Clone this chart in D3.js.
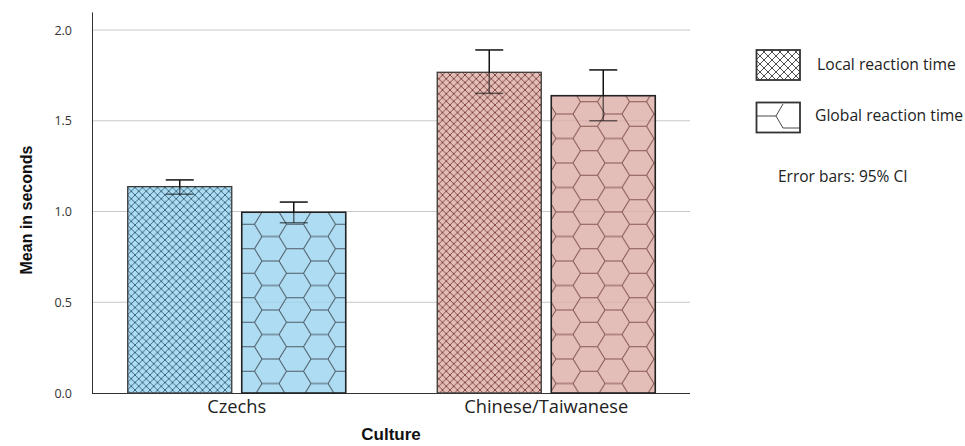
<!DOCTYPE html>
<html><head><meta charset="utf-8">
<script src="https://cdn.jsdelivr.net/npm/d3@7"></script>
<style>body{margin:0;background:#fff}svg{display:block}</style>
</head><body><div id="chart"></div>
<script>
const categories = ["Czechs", "Chinese/Taiwanese"];
const seriesNames = ["Local reaction time", "Global reaction time"];
const localMeans = [1.137, 1.767];
const localLower = [1.095, 1.651];
const localUpper = [1.174, 1.890];
const globalMeans = [0.996, 1.638];
const globalLower = [0.938, 1.500];
const globalUpper = [1.052, 1.780];
const yTicks = [0.0, 0.5, 1.0, 1.5, 2.0];
const xTitle = "Culture";
const yTitle = "Mean in seconds";
const noteText = "Error bars: 95% CI";

const W = 965, H = 446;
const svg = d3.select("#chart").append("svg").attr("width", W).attr("height", H);
const defs = svg.append("defs");

const fills = ["#9ad3ef", "#dcada6"];
const lineCols = ["#2f5f7a", "#7a3f3a"];
const hexCols = ["#4a5864", "#85554f"];

function crossPattern(id, col, period, sw) {
  const p = defs.append("pattern").attr("id", id).attr("patternUnits", "userSpaceOnUse")
    .attr("width", period).attr("height", period);
  p.append("path").attr("d", `M0,0L${period},${period}M${period},0L0,${period}`)
    .attr("stroke", col).attr("stroke-width", sw).attr("fill", "none");
}
function hexPattern(id, col) {
  const R = 16, t = 8.5, h = 12.25, PX = 2 * (R + t), PY = 2 * h;
  const edges = [
    [-t, -h, t, -h], [t, -h, R, 0], [R, 0, t, h],
    [R, 0, R + 2 * t, 0], [R + 2 * t, 0, 2 * R + t, h], [2 * R + t, h, R + 2 * t, 2 * h]
  ];
  const p = defs.append("pattern").attr("id", id).attr("patternUnits", "userSpaceOnUse")
    .attr("width", PX).attr("height", PY).attr("x", 242 + 4).attr("y", 212);
  let d = "";
  for (const dx of [-PX, 0, PX]) for (const dy of [-PY, 0, PY]) for (const e of edges)
    d += `M${e[0] + dx},${e[1] + dy}L${e[2] + dx},${e[3] + dy}`;
  p.append("path").attr("d", d).attr("stroke", col).attr("stroke-width", 1).attr("fill", "none");
}
crossPattern("cross0", lineCols[0], 7.5, 0.9);
crossPattern("cross1", lineCols[1], 7.5, 0.9);
crossPattern("crossL", "#222", 8, 0.8);
hexPattern("hex0", hexCols[0]);
hexPattern("hex1", hexCols[1]);

const y = d3.scaleLinear().domain([0, 2.1]).range([393, 11.85]);
const x0 = d3.scaleBand().domain(categories).range([82, 701]).paddingInner(0.2956).paddingOuter(0.1478);
const x1 = d3.scaleBand().domain(seriesNames).range([0, x0.bandwidth()]).paddingInner(10 / 114).paddingOuter(0);

const font = "'Open Sans', sans-serif";
const bold = "'Liberation Sans', Arial, sans-serif";

// grid
svg.append("g").selectAll("line").data(yTicks.filter(d => d > 0)).join("line")
  .attr("x1", 92).attr("x2", 690).attr("y1", d => y(d)).attr("y2", d => y(d))
  .attr("stroke", "#c8c8c8").attr("stroke-width", 1);

// y axis
const yAxis = d3.axisLeft(y).tickValues(yTicks).tickFormat(d3.format(".1f")).tickSize(0).tickPadding(20);
const ya = svg.append("g").attr("transform", "translate(92,0)").call(yAxis);
ya.select(".domain").attr("stroke", "#333").attr("stroke-width", 1);
ya.selectAll("text").attr("font-family", font).attr("font-size", 12.5).attr("fill", "#333");

// x axis baseline
const xAxis = d3.axisBottom(x0).tickSize(0).tickPadding(7);
const xa = svg.append("g").attr("transform", "translate(0,393)").call(xAxis);
xa.select(".domain").remove();
svg.append("line").attr("x1", 92).attr("x2", 690).attr("y1", 393.5).attr("y2", 393.5).attr("stroke", "#333");
xa.selectAll("text").attr("font-family", font).attr("font-size", 18.3).attr("fill", "#222");

const rows = [];
categories.forEach((c, i) => {
  rows.push({ cat: c, s: seriesNames[0], v: localMeans[i], lo: localLower[i], hi: localUpper[i], ci: i, si: 0 });
  rows.push({ cat: c, s: seriesNames[1], v: globalMeans[i], lo: globalLower[i], hi: globalUpper[i], ci: i, si: 1 });
});

const gBars = svg.append("g");
gBars.selectAll("rect.fill").data(rows).join("rect").attr("class", "fill")
  .attr("x", d => x0(d.cat) + x1(d.s)).attr("width", x1.bandwidth())
  .attr("y", d => y(d.v)).attr("height", d => y(0) - y(d.v))
  .attr("fill", d => fills[d.ci]).attr("fill-opacity", 0.8);
gBars.selectAll("rect.pat").data(rows).join("rect").attr("class", "pat")
  .attr("x", d => x0(d.cat) + x1(d.s)).attr("width", x1.bandwidth())
  .attr("y", d => y(d.v)).attr("height", d => y(0) - y(d.v))
  .attr("fill", d => d.si === 0 ? `url(#cross${d.ci})` : `url(#hex${d.ci})`)
  .attr("stroke", d => d.si === 0 ? "#3a3a3a" : "#222").attr("stroke-width", d => d.si === 0 ? 1.3 : 1.6);

// error bars
const cap = 14;
const gErr = svg.append("g");
rows.forEach(d => {
  const cx = x0(d.cat) + x1(d.s) + x1.bandwidth() / 2;
  const g = gErr.append("g");
  g.append("line").attr("x1", cx).attr("x2", cx).attr("y1", y(d.hi)).attr("y2", y(d.v))
    .attr("stroke", "#111").attr("stroke-width", 1.5);
  g.append("line").attr("x1", cx).attr("x2", cx).attr("y1", y(d.v)).attr("y2", y(d.lo))
    .attr("stroke", "#111").attr("stroke-width", 1.5).attr("stroke-opacity", 0.6);
  g.append("line").attr("x1", cx - cap).attr("x2", cx + cap).attr("y1", y(d.hi)).attr("y2", y(d.hi))
    .attr("stroke", "#111").attr("stroke-width", 1.5);
  g.append("line").attr("x1", cx - cap).attr("x2", cx + cap).attr("y1", y(d.lo)).attr("y2", y(d.lo))
    .attr("stroke", "#111").attr("stroke-width", 1.5).attr("stroke-opacity", d.lo < d.v ? 0.6 : 1);
});

// titles
svg.append("text").attr("x", 391).attr("y", 440).attr("text-anchor", "middle")
  .attr("font-family", bold).attr("font-weight", "bold").attr("font-size", 17).attr("fill", "#111").text(xTitle);
svg.append("text").attr("transform", "translate(32,210) rotate(-90)").attr("text-anchor", "middle")
  .attr("font-family", bold).attr("font-weight", "bold").attr("font-size", 16).attr("fill", "#111").text(yTitle);

// legend
const lg = svg.append("g");
lg.append("rect").attr("x", 756.5).attr("y", 50).attr("width", 43.5).attr("height", 30)
  .attr("fill", "url(#crossL)").attr("stroke", "#333").attr("stroke-width", 1.8);
lg.append("text").attr("x", 817).attr("y", 70).attr("font-family", font).attr("font-size", 15.7).attr("fill", "#222").text(seriesNames[0]);
const gb = lg.append("g");
gb.append("rect").attr("x", 756.5).attr("y", 102.5).attr("width", 43.5).attr("height", 30)
  .attr("fill", "#fff").attr("stroke", "#333").attr("stroke-width", 1.8);
gb.append("path").attr("d", "M757,116L776,116L783,104M776,116L783,128L800,128")
  .attr("stroke", "#333").attr("stroke-width", 0.9).attr("fill", "none");
lg.append("text").attr("x", 815).attr("y", 121).attr("font-family", font).attr("font-size", 15.7).attr("fill", "#222").text(seriesNames[1]);
lg.append("text").attr("x", 778).attr("y", 182).attr("font-family", font).attr("font-size", 15.5).attr("fill", "#222").text(noteText);
</script></body></html>
